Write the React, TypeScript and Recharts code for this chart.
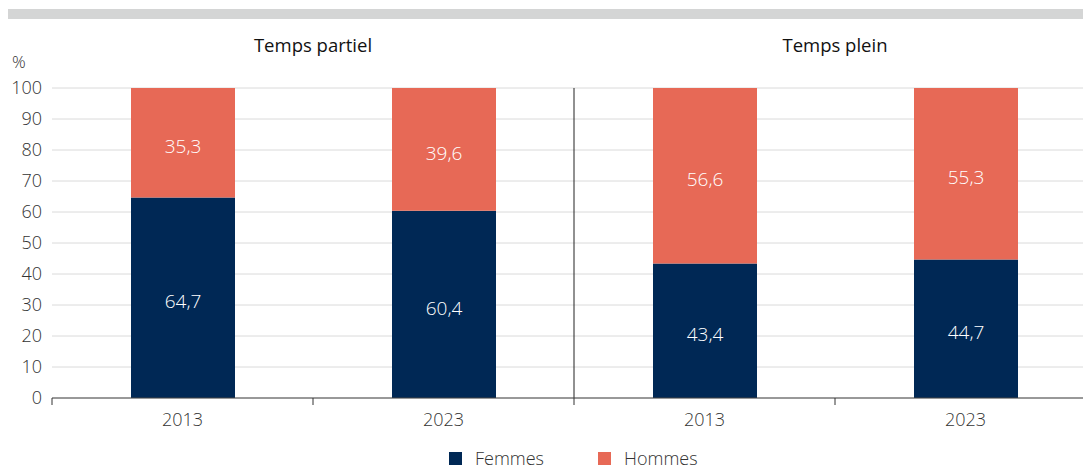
import {
  BarChart,
  Bar,
  XAxis,
  YAxis,
  CartesianGrid,
  ReferenceLine,
  LabelList,
} from 'recharts';

const years = ['2013', '2023', '2013', '2023'];
const femmes = [64.7, 60.4, 43.4, 44.7];
const hommes = [35.3, 39.6, 56.6, 55.3];
const panels = ['Temps partiel', 'Temps plein'];
const yTicks = [0, 10, 20, 30, 40, 50, 60, 70, 80, 90, 100];

const NAVY = '#002855';
const CORAL = '#e76956';
const TEXT = '#333333';
const FONT = '"Open Sans", sans-serif';
const LIGHT = 300;

const data = years.map((year, i) => ({
  pos: i + 0.5,
  year,
  femmes: femmes[i],
  hommes: hommes[i],
}));

// ticks: integers = band boundaries (tick marks), halves = year labels
const xTicks = [0, 0.5, 1, 1.5, 2, 2.5, 3, 3.5];

const fmt = (v: any) => String(v).replace('.', ',');

function XTick(props: any) {
  const { x, y, payload } = props;
  const v = payload.value as number;
  if (Number.isInteger(v)) {
    return <line x1={x} x2={x} y1={y} y2={y + 7} stroke="#333" strokeWidth={1} />;
  }
  const label = years[Math.floor(v)];
  return (
    <text x={x} y={y + 28} textAnchor="middle" fill={TEXT} fontSize={18} fontFamily={FONT} fontWeight={LIGHT}>
      {label}
    </text>
  );
}

export default function App() {
  return (
    <div style={{ position: 'relative', width: 1083, height: 462, overflow: 'hidden', fontFamily: FONT }}>
      <div style={{ position: 'absolute', left: 0, top: 1, width: 1083, height: 10, background: '#d4d5d5' }} />
      {panels.map((p, i) => (
        <div
          key={p}
          style={{
            position: 'absolute',
            top: 24,
            left: 44 + i * 522,
            width: 522,
            textAlign: 'center',
            fontSize: 18.5,
            color: '#111',
          }}
        >
          {p}
        </div>
      ))}
      <div style={{ position: 'absolute', left: 4, top: 42, fontSize: 17, color: TEXT, fontWeight: LIGHT }}>%</div>

      <BarChart
        width={1088}
        height={462}
        data={data}
        margin={{ top: 80, right: 0, bottom: 32, left: 0 }}
        style={{ position: 'absolute', left: 0, top: 0 }}
      >
        <CartesianGrid vertical={false} stroke="#dadada" />
        <XAxis
          dataKey="pos"
          type="number"
          domain={[0, 4]}
          ticks={xTicks}
          interval={0}
          tick={<XTick />}
          tickLine={false}
          tickSize={0}
          tickMargin={0}
          axisLine={{ stroke: '#444' }}
          height={40}
          allowDecimals
        />
        <YAxis
          domain={[0, 100]}
          ticks={yTicks}
          interval={0}
          width={44}
          axisLine={false}
          tickLine={false}
          tickSize={0}
          tickMargin={10}
          tick={{ fontSize: 18, fill: TEXT, fontFamily: FONT, fontWeight: LIGHT }}
        />
        <ReferenceLine x={2} stroke="#222" strokeWidth={1} />
        <Bar dataKey="femmes" stackId="a" fill={NAVY} barSize={104} isAnimationActive={false}>
          <LabelList dataKey="femmes" position="center" fill="#fff" fontSize={19} fontFamily={FONT} fontWeight={LIGHT} dy={4} formatter={fmt} />
        </Bar>
        <Bar dataKey="hommes" stackId="a" fill={CORAL} barSize={104} isAnimationActive={false}>
          <LabelList dataKey="hommes" position="center" fill="#fff" fontSize={19} fontFamily={FONT} fontWeight={LIGHT} dy={4} formatter={fmt} />
        </Bar>
      </BarChart>

      <div style={{ position: 'absolute', top: 438, left: 441, display: 'flex', alignItems: 'center', fontSize: 18, color: TEXT, fontWeight: LIGHT }}>
        <span style={{ width: 13, height: 13, background: NAVY, display: 'inline-block', marginRight: 13 }} />
        <span style={{ marginRight: 54 }}>Femmes</span>
        <span style={{ width: 13, height: 13, background: CORAL, display: 'inline-block', marginRight: 13 }} />
        <span>Hommes</span>
      </div>
    </div>
  );
}
